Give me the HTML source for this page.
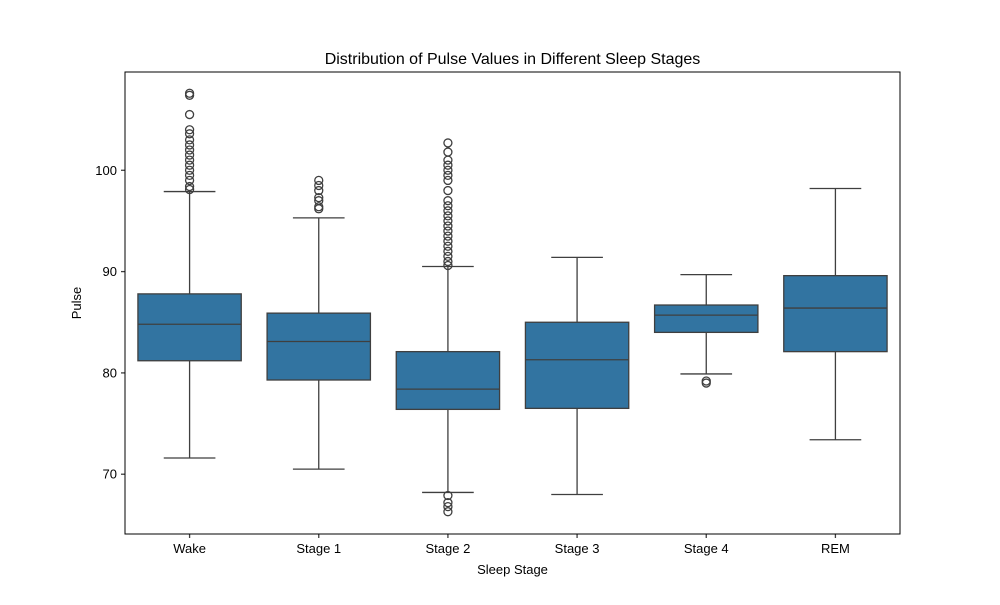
<!DOCTYPE html>
<html><head><meta charset="utf-8"><style>body{margin:0;background:#fff}svg{font-family:"Liberation Sans",sans-serif}</style></head>
<body>
<svg id="c" width="1000" height="600"></svg>
<script>
const categories=["Wake","Stage 1","Stage 2","Stage 3","Stage 4","REM"];
const whiskerLow=[71.6,70.5,68.2,68.0,79.9,73.4];
const q1=[81.2,79.3,76.4,76.5,84.0,82.1];
const median=[84.8,83.1,78.4,81.3,85.7,86.4];
const q3=[87.8,85.9,82.1,85.0,86.7,89.6];
const whiskerHigh=[97.9,95.3,90.5,91.4,89.7,98.2];
const outliers=[
[98.1,98.4,99,99.5,100,100.5,101,101.5,102,102.5,103,103.6,104,105.5,107.4,107.6],
[96.2,96.4,97,97.3,98,98.5,99],
[90.6,91,91.5,92,92.5,93,93.5,94,94.5,95,95.5,96,96.5,97,98,99,99.5,100,100.5,101,101.8,102.7,67.9,67.2,66.8,66.3],
[],
[79.2,79.0],
[]];
const yTicks=[70,80,90,100];
const L=125,R=900,T=72,B=534,yMin=64.1,yMax=109.7;
const ns="http://www.w3.org/2000/svg",svg=document.getElementById('c');
const y=v=>B-(v-yMin)/(yMax-yMin)*(B-T);
const band=(R-L)/categories.length;
const x=i=>L+band*(i+0.5);
function mk(t,a,p){const e=document.createElementNS(ns,t);for(const k in a)e.setAttribute(k,a[k]);(p||svg).appendChild(e);return e;}
function line(x1,y1,x2,y2,n){const e=mk('line',{x1,y1,x2,y2,stroke:'#3f3f3f','stroke-width':1.3});

return e;}
const bw=band*0.8;
categories.forEach((c,i)=>{
const cx=x(i);
line(cx,y(whiskerLow[i]),cx,y(q1[i]),'whisker-low');
line(cx,y(q3[i]),cx,y(whiskerHigh[i]),'whisker-high');
line(cx-bw/4,y(whiskerLow[i]),cx+bw/4,y(whiskerLow[i]),'cap-low');
line(cx-bw/4,y(whiskerHigh[i]),cx+bw/4,y(whiskerHigh[i]),'cap-high');
const r=mk('rect',{x:cx-bw/2,y:y(q3[i]),width:bw,height:y(q1[i])-y(q3[i]),fill:'#3274a1',stroke:'#3f3f3f','stroke-width':1.3});


line(cx-bw/2,y(median[i]),cx+bw/2,y(median[i]),'median-line');
outliers[i].forEach(v=>{const o=mk('circle',{cx,cy:y(v),r:4,fill:'none',stroke:'#3f3f3f','stroke-width':1.3});

});
line(cx,B,cx,B+4,'x-tick');
const t=mk('text',{x:cx,y:B+19,'text-anchor':'middle','font-size':13});t.textContent=c;


});
yTicks.forEach(v=>{line(L-4,y(v),L,y(v),'y-tick');
const t=mk('text',{x:L-8,y:y(v)+4.5,'text-anchor':'end','font-size':13});t.textContent=v;

});
const f=mk('rect',{x:L,y:T,width:R-L,height:B-T,fill:'none',stroke:'#000','stroke-width':1});


const tt=mk('text',{x:(L+R)/2,y:64,'text-anchor':'middle','font-size':16});tt.textContent='Distribution of Pulse Values in Different Sleep Stages';


const xl=mk('text',{x:(L+R)/2,y:574,'text-anchor':'middle','font-size':13});xl.textContent='Sleep Stage';


const yl=mk('text',{x:81,y:(T+B)/2,'text-anchor':'middle','font-size':13,transform:`rotate(-90 81 ${(T+B)/2})`});yl.textContent='Pulse';


</script>
</body></html>
